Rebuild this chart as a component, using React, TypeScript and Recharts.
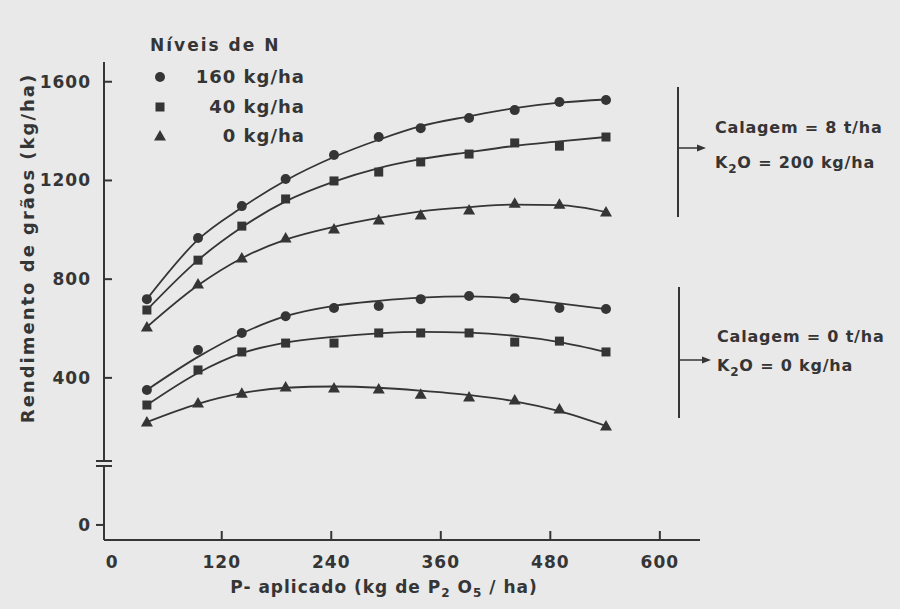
import { ComposedChart, Line, Scatter, XAxis, YAxis } from 'recharts'

// P applied (kg P2O5/ha)
const P_LEVELS = [38, 94, 142, 190, 243, 292, 338, 391, 441, 490, 541]
const X_TICKS = [0, 120, 240, 360, 480, 600]
// the y axis is broken: the "0" tick sits below the break
const ZERO_AT = -196
const Y_TICKS = [ZERO_AT, 400, 800, 1200, 1600]

// liming 8 t/ha, K2O 200 kg/ha  (observed, then the drawn fitted curve)
const N160_LIME = [719, 967, 1096, 1206, 1303, 1376, 1412, 1453, 1485, 1518, 1526]
const N40_LIME = [675, 877, 1015, 1125, 1198, 1234, 1275, 1307, 1352, 1339, 1376]
const N0_LIME = [606, 780, 886, 967, 1003, 1040, 1060, 1080, 1108, 1104, 1072]
const FIT160_LIME = [719, 960, 1090, 1200, 1295, 1365, 1420, 1460, 1493, 1515, 1528]
const FIT40_LIME = [675, 877, 1010, 1115, 1195, 1250, 1286, 1315, 1340, 1358, 1376]
const FIT0_LIME = [606, 775, 885, 960, 1012, 1048, 1075, 1092, 1102, 1100, 1072]

// no liming, no K2O
const N160_NOLIME = [351, 513, 582, 650, 683, 691, 719, 732, 723, 683, 679]
const N40_NOLIME = [290, 432, 505, 541, 541, 582, 582, 582, 545, 549, 505]
const N0_NOLIME = [221, 298, 338, 363, 359, 355, 334, 322, 310, 274, 205]
const FIT160_NOLIME = [351, 485, 580, 650, 692, 712, 725, 730, 722, 702, 679]
const FIT40_NOLIME = [290, 420, 500, 543, 566, 580, 586, 583, 570, 545, 505]
const FIT0_NOLIME = [221, 295, 338, 360, 365, 360, 348, 330, 305, 265, 205]

const INK = '#353535'
const BG = '#e9e9e9'
const FONT = '"DejaVu Sans", Verdana, sans-serif'

const pts = (ys: number[]) => P_LEVELS.map((x, i) => ({ x, y: ys[i] }))

const Circle = ({ cx, cy }: any) => <circle cx={cx} cy={cy} r={5} fill={INK} />
const Square = ({ cx, cy }: any) => <rect x={cx - 4.5} y={cy - 4.5} width={9} height={9} fill={INK} />
const Tri = ({ cx, cy }: any) => (
  <polygon points={`${cx},${cy - 6} ${cx - 6},${cy + 4.5} ${cx + 6},${cy + 4.5}`} fill={INK} />
)

const SERIES = [
  { obs: N160_LIME, fit: FIT160_LIME, shape: Circle },
  { obs: N40_LIME, fit: FIT40_LIME, shape: Square },
  { obs: N0_LIME, fit: FIT0_LIME, shape: Tri },
  { obs: N160_NOLIME, fit: FIT160_NOLIME, shape: Circle },
  { obs: N40_NOLIME, fit: FIT40_NOLIME, shape: Square },
  { obs: N0_NOLIME, fit: FIT0_NOLIME, shape: Tri },
]

const XTick = ({ x, y, payload }: any) => (
  <g>
    {payload.value > 0 && <line x1={x} x2={x} y1={y} y2={y - 9} stroke={INK} strokeWidth={2} />}
    <text x={x} y={y + 22} textAnchor="middle" dominantBaseline="central" letterSpacing={1}
      fontFamily={FONT} fontWeight="bold" fontSize={17} fill={INK}>{payload.value}</text>
  </g>
)

const YTick = ({ x, y, payload }: any) => {
  const zero = payload.value === ZERO_AT
  return (
    <g>
      <line x1={zero ? x - 8 : x} x2={zero ? x : x + 8} y1={y} y2={y} stroke={INK} strokeWidth={2} />
      <text x={x - 13} y={y} textAnchor="end" dominantBaseline="central" letterSpacing={1}
        fontFamily={FONT} fontWeight="bold" fontSize={17} fill={INK}>{zero ? 0 : payload.value}</text>
    </g>
  )
}

const txt = (left: number, top: number, size = 17, spacing = 1): React.CSSProperties => ({
  position: 'absolute', left, top, transform: 'translateY(-50%)', whiteSpace: 'nowrap',
  fontFamily: FONT, fontWeight: 'bold', fontSize: size, color: INK, lineHeight: 1,
  letterSpacing: spacing,
})

export default function App() {
  return (
    <div style={{ position: 'absolute', left: 0, top: 0, width: 900, height: 609, background: BG, overflow: 'hidden' }}>
      <ComposedChart width={900} height={609} margin={{ top: 62, right: 200, left: 44, bottom: 29 }}>
        <XAxis type="number" dataKey="x" domain={[-9, 644]} ticks={X_TICKS} height={40}
          tickSize={0} tickMargin={0} tick={<XTick />} axisLine={{ stroke: INK, strokeWidth: 2 }} />
        <YAxis type="number" dataKey="y" domain={[-257, 1680]} ticks={Y_TICKS} width={60}
          tickSize={0} tickMargin={0} tick={<YTick />} axisLine={{ stroke: INK, strokeWidth: 2 }} />
        {SERIES.map((s, i) => (
          <Line key={'f' + i} data={pts(s.fit)} dataKey="y" type="monotone" stroke={INK}
            strokeWidth={1.8} dot={false} activeDot={false} isAnimationActive={false} />
        ))}
        {SERIES.map((s, i) => (
          <Scatter key={'o' + i} data={pts(s.obs)} dataKey="y" shape={s.shape} isAnimationActive={false} />
        ))}
      </ComposedChart>

      <svg width={900} height={609} style={{ position: 'absolute', left: 0, top: 0 }}>
        {/* axis break */}
        <rect x={98} y={461} width={12} height={5} fill={BG} />
        <line x1={96} x2={112} y1={461} y2={461} stroke={INK} strokeWidth={2} />
        <line x1={96} x2={112} y1={466} y2={466} stroke={INK} strokeWidth={2} />
        {/* brackets with arrows */}
        <line x1={678} x2={678} y1={87} y2={217} stroke={INK} strokeWidth={2} />
        <line x1={678} x2={700} y1={148} y2={148} stroke={INK} strokeWidth={1.5} />
        <polygon points="706,148 697,144.5 697,151.5" fill={INK} />
        <line x1={679} x2={679} y1={287} y2={418} stroke={INK} strokeWidth={2} />
        <line x1={679} x2={705} y1={360} y2={360} stroke={INK} strokeWidth={1.5} />
        <polygon points="711,360 702,356.5 702,363.5" fill={INK} />
        {/* legend markers */}
        <Circle cx={160} cy={77} />
        <Square cx={160} cy={107} />
        <Tri cx={160} cy={136} />
      </svg>

      <div style={txt(150, 45, 17, 2)}>Níveis de N</div>
      <div style={{ ...txt(180, 77, 18), width: 125, textAlign: 'right' }}>160 kg/ha</div>
      <div style={{ ...txt(180, 107, 18), width: 125, textAlign: 'right' }}>40 kg/ha</div>
      <div style={{ ...txt(180, 136, 18), width: 125, textAlign: 'right' }}>0 kg/ha</div>

      <div style={txt(715, 128, 16, 0.8)}>Calagem = 8 t/ha</div>
      <div style={txt(715, 165, 16, 0.8)}>K<sub style={{ fontSize: 12 }}>2</sub>O = 200 kg/ha</div>
      <div style={txt(717, 337, 16, 0.8)}>Calagem = 0 t/ha</div>
      <div style={txt(717, 368, 16, 0.8)}>K<sub style={{ fontSize: 12 }}>2</sub>O = 0 kg/ha</div>

      <div style={{ ...txt(28, 248, 18, 2), transform: 'translate(-50%, -50%) rotate(-90deg)' }}>
        Rendimento de grãos (kg/ha)
      </div>
      <div style={{ ...txt(384, 589, 17, 1), transform: 'translate(-50%, -50%)' }}>
        P- aplicado (kg de P<sub style={{ fontSize: 12 }}>2</sub> O<sub style={{ fontSize: 12 }}>5</sub> / ha)
      </div>
    </div>
  )
}
